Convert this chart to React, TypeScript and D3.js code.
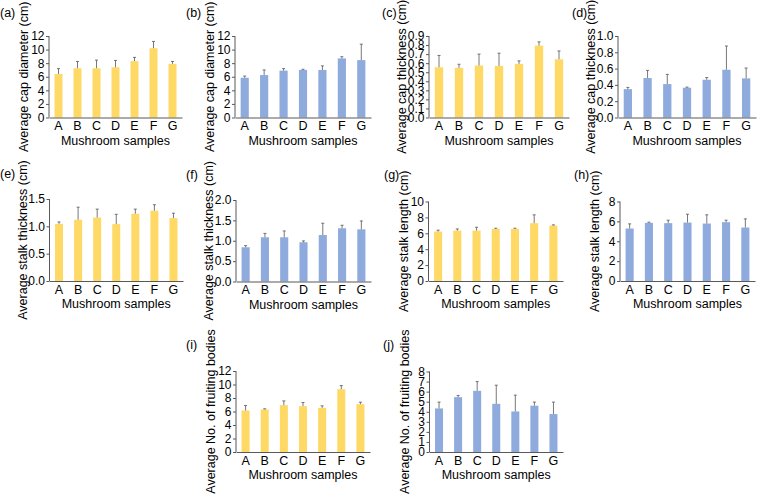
import React, { useEffect, useRef } from 'react';
import * as d3 from 'd3';

const categories = ['A', 'B', 'C', 'D', 'E', 'F', 'G'];

// means and (plus) error values
const capDiameterY = [6.4, 7.25, 7.25, 7.4, 8.3, 10.2, 7.9];
const capDiameterYErr = [0.8, 1.0, 1.2, 1.0, 0.55, 1.0, 0.35];
const capDiameterB = [5.85, 6.25, 6.9, 7.0, 7.0, 8.7, 8.45];
const capDiameterBErr = [0.25, 0.75, 0.3, 0.1, 0.6, 0.25, 2.35];
const capThicknessY = [0.555, 0.548, 0.574, 0.57, 0.592, 0.794, 0.643];
const capThicknessYErr = [0.13, 0.04, 0.126, 0.14, 0.033, 0.041, 0.092];
const capThicknessB = [0.348, 0.484, 0.41, 0.365, 0.463, 0.586, 0.48];
const capThicknessBErr = [0.021, 0.094, 0.119, 0.008, 0.027, 0.291, 0.127];
const stalkThicknessY = [1.045, 1.12, 1.16, 1.04, 1.23, 1.285, 1.15];
const stalkThicknessYErr = [0.035, 0.23, 0.155, 0.18, 0.085, 0.11, 0.09];
const stalkThicknessB = [0.84, 1.085, 1.085, 0.963, 1.14, 1.306, 1.28];
const stalkThicknessBErr = [0.04, 0.095, 0.155, 0.033, 0.29, 0.074, 0.206];
const stalkLengthY = [6.22, 6.34, 6.34, 6.55, 6.55, 7.27, 6.97];
const stalkLengthYErr = [0.17, 0.21, 0.42, 0.09, 0.09, 1.05, 0.09];
const stalkLengthB = [5.28, 5.85, 5.82, 5.88, 5.78, 5.92, 5.38];
const stalkLengthBErr = [0.47, 0.07, 0.3, 0.84, 0.88, 0.2, 0.87];
const fruitingY = [6.15, 6.3, 6.94, 6.79, 6.54, 9.3, 7.08];
const fruitingYErr = [0.74, 0.1, 0.63, 0.54, 0.3, 0.54, 0.3];
const fruitingB = [4.33, 5.45, 6.08, 4.79, 4.03, 4.6, 3.77];
const fruitingBErr = [0.63, 0.17, 0.92, 1.85, 1.62, 0.36, 1.19];

const yellow = '#FFD966';
const blue = '#8FAADC';

const panels = [
  { tag: '(a)', title: 'Average cap diameter (cm)', values: capDiameterY, errs: capDiameterYErr, color: yellow, max: 12, step: 2, fmt: 'd', lx: 0, ly: 13, left: 49, right: 182, top: 36, bottom: 117.5 },
  { tag: '(b)', title: 'Average cap diameter (cm)', values: capDiameterB, errs: capDiameterBErr, color: blue, max: 12, step: 2, fmt: 'd', lx: 186, ly: 13, left: 235, right: 371, top: 36, bottom: 117.5 },
  { tag: '(c)', title: 'Average cap thickness (cm)', values: capThicknessY, errs: capThicknessYErr, color: yellow, max: 0.9, step: 0.1, fmt: '.1f', lx: 382, ly: 13, left: 429, right: 569, top: 36, bottom: 117.5 },
  { tag: '(d)', title: 'Average cap thickness (cm)', values: capThicknessB, errs: capThicknessBErr, color: blue, max: 1.0, step: 0.2, fmt: '.1f', lx: 572, ly: 13, left: 618, right: 756, top: 36, bottom: 117.5 },
  { tag: '(e)', title: 'Average stalk thickness (cm)', values: stalkThicknessY, errs: stalkThicknessYErr, color: yellow, max: 1.5, step: 0.5, fmt: '.1f', lx: 0, ly: 174, left: 49.5, right: 183, top: 199, bottom: 281 },
  { tag: '(f)', title: 'Average stalk thickness (cm)', values: stalkThicknessB, errs: stalkThicknessBErr, color: blue, max: 2.0, step: 0.5, fmt: '.1f', lx: 186, ly: 175, left: 236, right: 371, top: 200, bottom: 281.5 },
  { tag: '(g)', title: 'Average stalk length (cm)', values: stalkLengthY, errs: stalkLengthYErr, color: yellow, max: 10, step: 2, fmt: 'd', lx: 384, ly: 175, left: 428.5, right: 563, top: 201.5, bottom: 281 },
  { tag: '(h)', title: 'Average stalk length (cm)', values: stalkLengthB, errs: stalkLengthBErr, color: blue, max: 8, step: 2, fmt: 'd', lx: 574, ly: 175, left: 620, right: 755, top: 201.5, bottom: 281 },
  { tag: '(i)', title: 'Average No. of fruiting bodies', values: fruitingY, errs: fruitingYErr, color: yellow, max: 12, step: 2, fmt: 'd', lx: 186, ly: 345, left: 236, right: 370, top: 371, bottom: 452 },
  { tag: '(j)', title: 'Average No. of fruiting bodies', values: fruitingB, errs: fruitingBErr, color: blue, max: 8, step: 1, fmt: 'd', lx: 383, ly: 345, left: 429.5, right: 563, top: 371.5, bottom: 452 },
];

const svgWidth = 757;
const svgHeight = 494;
const font = '"Liberation Sans", Arial, sans-serif';
const axisColor = '#595959';

const App = () => {
  const svgRef = useRef(null);

  useEffect(() => {
    const svg = d3.select(svgRef.current);
    svg.selectAll('*').remove();

    panels.forEach(p => {
      const g = svg.append('g');

      const x = d3.scaleBand()
        .domain(categories)
        .range([p.left, p.right])
        .paddingInner(0.58)
        .paddingOuter(0.29);

      const y = d3.scaleLinear()
        .domain([0, p.max])
        .range([p.bottom, p.top]);

      const ticks = d3.range(0, p.max + p.step / 2, p.step);

      // bars
      g.selectAll('rect.bar')
        .data(p.values)
        .enter().append('rect')
        .attr('x', (d, i) => x(categories[i]))
        .attr('width', x.bandwidth())
        .attr('y', d => y(d))
        .attr('height', d => y(0) - y(d))
        .attr('fill', p.color);

      // error bars (plus direction only)
      const eb = g.selectAll('g.err')
        .data(p.values)
        .enter().append('g');
      eb.append('line')
        .attr('x1', (d, i) => x(categories[i]) + x.bandwidth() / 2)
        .attr('x2', (d, i) => x(categories[i]) + x.bandwidth() / 2)
        .attr('y1', d => y(d))
        .attr('y2', (d, i) => y(d + p.errs[i]))
        .attr('stroke', '#555')
        .attr('stroke-width', 0.8);
      eb.append('line')
        .attr('x1', (d, i) => x(categories[i]) + x.bandwidth() / 2 - 1.5)
        .attr('x2', (d, i) => x(categories[i]) + x.bandwidth() / 2 + 1.5)
        .attr('y1', (d, i) => y(d + p.errs[i]))
        .attr('y2', (d, i) => y(d + p.errs[i]))
        .attr('stroke', '#555')
        .attr('stroke-width', 0.8);

      // y axis
      const yAxis = g.append('g')
        .attr('transform', `translate(${p.left},0)`)
        .call(d3.axisLeft(y).tickValues(ticks).tickSize(3).tickPadding(1.5).tickFormat(d3.format(p.fmt)));
      yAxis.select('.domain').attr('stroke', axisColor).attr('d', `M-0,${p.top}V${p.bottom}`);
      yAxis.selectAll('.tick line').attr('stroke', axisColor);
      yAxis.selectAll('text')
        .attr('fill', '#000')
        .style('font-family', font)
        .style('font-size', '12px');

      // x axis
      const xAxis = g.append('g')
        .attr('transform', `translate(0,${p.bottom})`)
        .call(d3.axisBottom(x).tickSize(0).tickPadding(4));
      xAxis.select('.domain').attr('stroke', axisColor).attr('stroke-width', 1.2);
      xAxis.selectAll('text')
        .attr('fill', '#000')
        .style('font-family', font)
        .style('font-size', '12.5px');

      // axis titles
      g.append('text')
        .attr('x', (p.left + p.right) / 2)
        .attr('y', p.bottom + 23)
        .attr('text-anchor', 'middle')
        .attr('dominant-baseline', 'central')
        .style('font-family', font)
        .style('font-size', '12.5px')
        .text('Mushroom samples');

      const titleGap = p.fmt === 'd' ? 25 : 27;
      g.append('text')
        .attr('transform', `translate(${p.left - titleGap},${(p.top + p.bottom) / 2}) rotate(-90)`)
        .attr('text-anchor', 'middle')
        .attr('dominant-baseline', 'central')
        .style('font-family', font)
        .style('font-size', '12.5px')
        .text(p.title);

      // panel tag
      g.append('text')
        .attr('x', p.lx)
        .attr('y', p.ly)
        .attr('dominant-baseline', 'central')
        .style('font-family', font)
        .style('font-size', '12.5px')
        .text(p.tag);
    });
  }, []);

  return (
    <svg
      ref={svgRef}
      width={svgWidth}
      height={svgHeight}
      style={{ position: 'absolute', left: 0, top: 0, background: '#fff' }}
    ></svg>
  );
};

export default App;
